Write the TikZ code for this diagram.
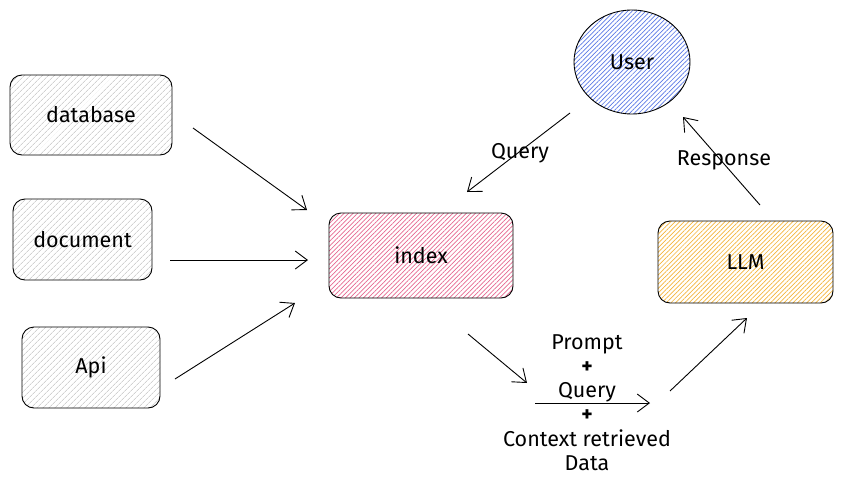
\documentclass[tikz,border=0pt]{standalone}
\usepackage{fontspec}
\setmainfont{Fira Sans}
\usetikzlibrary{arrows.meta,patterns.meta,shapes.geometric}
\definecolor{grayhatch}{HTML}{B8B8B8}
\definecolor{pinkhatch}{HTML}{E6678F}
\definecolor{bluehatch}{HTML}{5A78E6}
\definecolor{yellowhatch}{HTML}{F4B43A}
\tikzset{
  box/.style={draw=black, line width=0.9pt, rounded corners=12pt, inner sep=0pt, font=\fontsize{21.5}{25}\selectfont},
  graybox/.style={box, pattern={Lines[angle=45,distance=4pt,line width=0.5pt]}, pattern color=grayhatch},
  pinkbox/.style={box, pattern={Lines[angle=45,distance=3.2pt,line width=0.7pt]}, pattern color=pinkhatch},
  yellowbox/.style={box, pattern={Lines[angle=45,distance=3.2pt,line width=0.7pt]}, pattern color=yellowhatch},
  userell/.style={ellipse, draw=black, line width=0.9pt, inner sep=0pt, font=\fontsize{21.5}{25}\selectfont, pattern={Lines[angle=45,distance=3.2pt,line width=0.7pt]}, pattern color=bluehatch},
  conn/.style={-{Straight Barb[length=12pt,width=18pt,line width=0.9pt]}, line width=0.9pt, black},
  lbl/.style={font=\fontsize{21.5}{25}\selectfont, inner sep=1pt},
}
\begin{document}
\begin{tikzpicture}[x=1pt,y=-1pt]
\useasboundingbox (0,0) rectangle (847,485);
% boxes
\node[graybox, minimum width=162pt, minimum height=80pt] (db) at (91,115) {database};
\node[graybox, minimum width=139pt, minimum height=81pt] (doc) at (82.5,239.5) {document};
\node[graybox, minimum width=138pt, minimum height=81pt] (api) at (91,367.5) {Api};
\node[pinkbox, minimum width=184pt, minimum height=85pt] (index) at (421,255.5) {index};
\node[yellowbox, minimum width=175pt, minimum height=82pt] (llm) at (745.5,262) {LLM};
\node[userell, minimum width=116pt, minimum height=104pt] (user) at (632,62) {User};
% middle text block
\node[lbl, align=center, font=\fontsize{21.5}{24.3}\selectfont] (ctx) at (587,402.5) {Prompt\\\textbf{+}\\Query\\\textbf{+}\\Context retrieved\\Data};
% coordinates for arrow ends
\coordinate (a1s) at (193,128); \coordinate (a1e) at (307,210);
\coordinate (a2s) at (170,260); \coordinate (a2e) at (308,260);
\coordinate (a3s) at (175,379); \coordinate (a3e) at (295,303);
\coordinate (qs) at (570,113); \coordinate (qe) at (467,192);
\coordinate (rs) at (760,205); \coordinate (re) at (683,117);
\coordinate (is) at (468,334); \coordinate (ie) at (527,383);
\coordinate (ms) at (535,403); \coordinate (me) at (650,403);
\coordinate (ls) at (670,391); \coordinate (le) at (747,318);
% arrows
\draw[conn] (a1s) -- (a1e);
\draw[conn] (a2s) -- (a2e);
\draw[conn] (a3s) -- (a3e);
\draw[conn] (qs) -- (qe);
\draw[conn] (rs) -- (re);
\draw[conn] (is) -- (ie);
\draw[conn] (ms) -- (me);
\draw[conn] (ls) -- (le);
% labels
\node[lbl] (qlbl) at (520,153) {Query};
\node[lbl] (rlbl) at (724,160) {Response};
\end{tikzpicture}
\end{document}
